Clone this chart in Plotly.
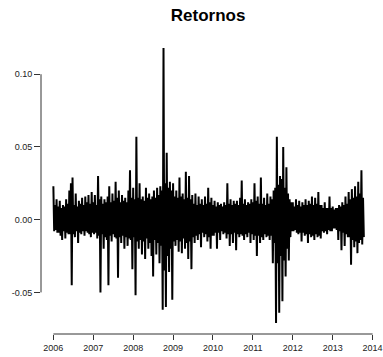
import plotly.graph_objects as go

# Return series: for each 0.04-year window, its highest and
# lowest daily return (hi_* / lo_*).
hi_2006 = [0.023, 0.010, 0.014, 0.009, 0.013, 0.008, 0.010, 0.009, 0.014, 0.011, 0.020, 0.025, 0.029,
           0.010, 0.018, 0.009, 0.013, 0.011, 0.015, 0.010, 0.016, 0.012, 0.017, 0.011, 0.019]
lo_2006 = [-0.008, -0.007, -0.009, -0.009, -0.011, -0.014, -0.008, -0.013, -0.009, -0.010, -0.010, -0.045, -0.010,
           -0.012, -0.008, -0.016, -0.009, -0.010, -0.008, -0.011, -0.008, -0.009, -0.010, -0.012, -0.009]
hi_2007 = [0.012, 0.017, 0.010, 0.030, 0.014, 0.016, 0.011, 0.014, 0.012, 0.016, 0.023, 0.012, 0.018,
           0.013, 0.026, 0.015, 0.020, 0.012, 0.017, 0.013, 0.015, 0.012, 0.020, 0.034, 0.015]
lo_2007 = [-0.010, -0.009, -0.013, -0.011, -0.050, -0.010, -0.020, -0.012, -0.014, -0.045, -0.011, -0.015, -0.010,
           -0.012, -0.013, -0.040, -0.012, -0.016, -0.011, -0.020, -0.012, -0.018, -0.013, -0.014, -0.034]
hi_2008 = [0.022, 0.014, 0.057, 0.015, 0.025, 0.014, 0.016, 0.013, 0.022, 0.015, 0.018, 0.014, 0.016,
           0.020, 0.015, 0.022, 0.017, 0.023, 0.020, 0.118, 0.025, 0.046, 0.022, 0.026, 0.020]
lo_2008 = [-0.012, -0.052, -0.015, -0.020, -0.014, -0.024, -0.015, -0.027, -0.013, -0.020, -0.016, -0.025, -0.039,
           -0.014, -0.024, -0.016, -0.030, -0.018, -0.062, -0.035, -0.060, -0.025, -0.036, -0.020, -0.055]
hi_2009 = [0.025, 0.016, 0.020, 0.015, 0.029, 0.016, 0.018, 0.014, 0.033, 0.015, 0.030, 0.014, 0.017,
           0.011, 0.018, 0.010, 0.016, 0.011, 0.014, 0.010, 0.016, 0.011, 0.022, 0.012, 0.015]
lo_2009 = [-0.015, -0.018, -0.014, -0.022, -0.015, -0.023, -0.013, -0.020, -0.016, -0.027, -0.015, -0.034, -0.012,
           -0.016, -0.011, -0.014, -0.010, -0.019, -0.009, -0.012, -0.010, -0.015, -0.012, -0.020, -0.011]
hi_2010 = [0.010, 0.013, 0.009, 0.012, 0.010, 0.011, 0.009, 0.012, 0.010, 0.025, 0.011, 0.014, 0.010,
           0.013, 0.011, 0.013, 0.010, 0.015, 0.027, 0.011, 0.014, 0.010, 0.012, 0.011, 0.014]
lo_2010 = [-0.011, -0.009, -0.020, -0.009, -0.014, -0.008, -0.010, -0.009, -0.013, -0.010, -0.018, -0.010, -0.016,
           -0.009, -0.021, -0.010, -0.012, -0.010, -0.011, -0.014, -0.010, -0.012, -0.009, -0.016, -0.010]
hi_2011 = [0.012, 0.025, 0.013, 0.016, 0.011, 0.029, 0.011, 0.015, 0.010, 0.018, 0.011, 0.016, 0.014,
           0.020, 0.022, 0.057, 0.024, 0.030, 0.028, 0.050, 0.022, 0.036, 0.018, 0.014, 0.012]
lo_2011 = [-0.014, -0.011, -0.025, -0.011, -0.016, -0.012, -0.014, -0.010, -0.012, -0.011, -0.014, -0.011, -0.030,
           -0.016, -0.071, -0.030, -0.064, -0.025, -0.056, -0.028, -0.039, -0.020, -0.028, -0.012, -0.008]
hi_2012 = [0.012, 0.009, 0.014, 0.010, 0.013, 0.009, 0.012, 0.010, 0.014, 0.010, 0.013, 0.011, 0.016,
           0.010, 0.015, 0.011, 0.019, 0.010, 0.010, 0.008, 0.012, 0.008, 0.008, 0.016, 0.008]
lo_2012 = [-0.008, -0.007, -0.009, -0.010, -0.009, -0.015, -0.009, -0.011, -0.010, -0.016, -0.010, -0.012, -0.011,
           -0.014, -0.010, -0.012, -0.011, -0.013, -0.008, -0.009, -0.008, -0.010, -0.007, -0.008, -0.008]
hi_2013 = [0.009, 0.007, 0.008, 0.008, 0.010, 0.009, 0.012, 0.010, 0.016, 0.011, 0.019, 0.014, 0.021,
           0.015, 0.023, 0.016, 0.026, 0.018, 0.034, 0.015]
lo_2013 = [-0.006, -0.006, -0.007, -0.014, -0.008, -0.021, -0.009, -0.018, -0.010, -0.012, -0.012, -0.031, -0.014,
           -0.019, -0.015, -0.023, -0.016, -0.014, -0.017, -0.012]

hi_all = hi_2006 + hi_2007 + hi_2008 + hi_2009 + hi_2010 + hi_2011 + hi_2012 + hi_2013
lo_all = lo_2006 + lo_2007 + lo_2008 + lo_2009 + lo_2010 + lo_2011 + lo_2012 + lo_2013

start_year = 2006.0
window = 0.04  # years per window

years, returns = [], []
for i, (h, l) in enumerate(zip(hi_all, lo_all)):
    t0 = start_year + window * i
    years += [t0, t0 + window / 2]
    returns += [h, l]

x_ticks = [2006, 2007, 2008, 2009, 2010, 2011, 2012, 2013, 2014]
y_ticks = [-0.05, 0.00, 0.05, 0.10]
y_tick_text = ["-0.05", "0.00", "0.05", "0.10"]

fig = go.Figure()
fig.add_trace(go.Scatter(x=years, y=returns, mode="lines",
                         line=dict(color="black", width=2), showlegend=False, hoverinfo="skip"))

axis_font = dict(family="Liberation Sans, Arial, sans-serif", size=9, color="#222222")

fig.update_layout(
    width=383, height=357,
    margin=dict(l=41, r=8, t=37, b=23, autoexpand=False),
    paper_bgcolor="white", plot_bgcolor="white",
    title=dict(text="<b>Retornos</b>", x=0.5435, xanchor="center", y=0.958, yanchor="middle",
               font=dict(family="Liberation Sans, Arial, sans-serif", size=17, color="black")),
    xaxis=dict(range=[2005.69, 2014.06], tickvals=x_ticks, ticktext=[str(t) for t in x_ticks],
               showgrid=False, zeroline=False, showline=False, automargin=False,
               ticks="outside", ticklen=5, tickwidth=1, tickcolor="#333333",
               tickfont=axis_font),
    yaxis=dict(range=[-0.0786, 0.1256], tickvals=y_ticks, ticktext=y_tick_text,
               showgrid=False, zeroline=False, showline=False, automargin=False,
               ticks="outside", ticklen=6, tickwidth=1, tickcolor="#333333",
               tickfont=axis_font),
)

# R-style axis lines spanning from first to last tick
fig.add_shape(type="line", xref="x", yref="paper", x0=x_ticks[0], x1=x_ticks[-1], y0=0, y1=0,
              line=dict(color="#333333", width=1))
fig.add_shape(type="line", xref="paper", yref="y", x0=0, x1=0, y0=y_ticks[0], y1=y_ticks[-1],
              line=dict(color="#333333", width=1))

fig.write_html("out.html", config={"displayModeBar": False},
               post_script="document.body.style.margin='0px';")
